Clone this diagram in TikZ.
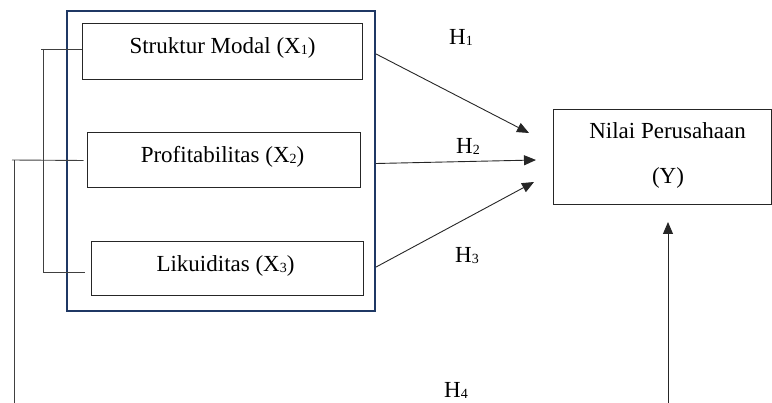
\documentclass[tikz,border=0pt]{standalone}
\usepackage{fontspec}
\setmainfont{Liberation Serif}
\usetikzlibrary{arrows.meta,calc}
\definecolor{navy}{HTML}{1F3864}
\newcommand{\sbs}[1]{\raisebox{-1pt}{\fontsize{14}{14}\selectfont #1}}
\begin{document}
\begin{tikzpicture}[x=1pt,y=-1pt,
  box/.style={draw=black!85,line width=1pt,inner sep=0pt},
  lbl/.style={anchor=base,inner sep=0pt,font=\fontsize{23}{28}\selectfont},
  conn/.style={draw=black!75,line width=0.9pt},
  arr/.style={draw=black!85,line width=0.9pt,-{Triangle[length=12pt,width=10pt]}}]
\useasboundingbox (0,0) rectangle (772,403);
% outer group box
\node[draw=navy,line width=2.2pt,minimum width=308pt,minimum height=300pt,inner sep=0pt] (outer) at (221,161) {};
% inner boxes
\node[box,minimum width=280pt,minimum height=56pt] (b1) at (222,52) {};
\node[box,minimum width=273pt,minimum height=55pt] (b2) at (223.5,160.5) {};
\node[box,minimum width=272pt,minimum height=54pt] (b3) at (227,269) {};
\node[box,minimum width=218pt,minimum height=95pt] (by) at (662,157.5) {};
% texts
\node[lbl] (t1) at (222.5,54) {Struktur Modal (X\sbs{1})};
\node[lbl] (t2) at (222.5,163) {Profitabilitas (X\sbs{2})};
\node[lbl] (t3) at (225.5,272) {Likuiditas (X\sbs{3})};
\node[lbl] (ty1) at (667.5,139) {Nilai Perusahaan};
\node[lbl] (ty2) at (668,184) {(Y)};
\node[lbl] (h1) at (461,45) {H\sbs{1}};
\node[lbl] (h2) at (468,154) {H\sbs{2}};
\node[lbl] (h3) at (467,263) {H\sbs{3}};
\node[lbl] (h4) at (456,398) {H\sbs{4}};
% arrows to Y
\coordinate (e1) at (529,133);
\coordinate (e2) at (536,160);
\coordinate (e3) at (534,182);
\draw[arr] ([yshift=-2pt]outer.east |- b1.east) -- (e1);
\draw[arr] ([yshift=-3pt]outer.east |- b2.east) -- (e2);
\draw[arr] ([yshift=2pt]outer.east |- b3.east) -- (e3);
% H4 arrow
\coordinate (s4) at (668,403);
\coordinate (e4) at (668,222);
\draw[arr] (s4) -- (e4);
% left bracket
\coordinate (k1) at (41,49);
\coordinate (kt) at (43,49);
\coordinate (kb) at (43,272);
\draw[conn] (k1) -- ([yshift=3pt]b1.west);
\draw[conn] (kt) -- (kb) -- ([xshift=-6pt,yshift=-3pt]b3.west);
% line from X2 down
\coordinate (m0) at (14,403);
\coordinate (m1) at (14,160);
\coordinate (m2) at (12,160);
\draw[conn] (m0) -- (m1);
\draw[conn] (m2) -- ([xshift=-3pt]b2.west);
\end{tikzpicture}
\end{document}
